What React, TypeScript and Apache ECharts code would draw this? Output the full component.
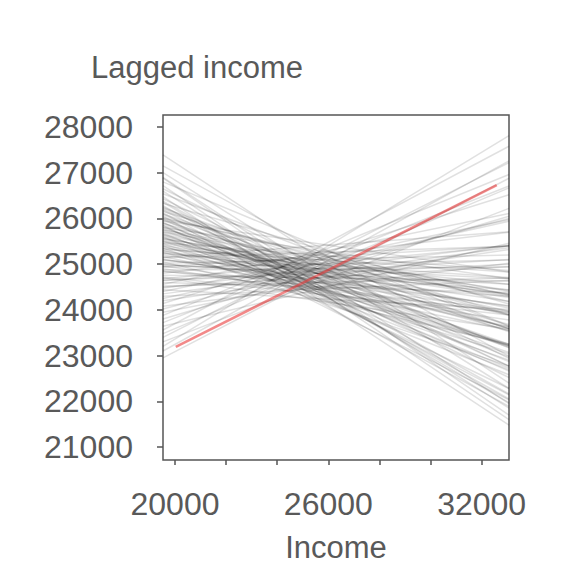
import React, { useEffect, useRef } from "react";
import * as echarts from "echarts";

// x-range of the plot panel (lines span the whole panel)
const xEdges = [19530, 33070];
const yRange = [20716, 28263];
const xTickValues = [20000, 22000, 24000, 26000, 28000, 30000, 32000];
const xLabelValues = [20000, 26000, 32000];
const yTickValues = [21000, 22000, 23000, 24000, 25000, 26000, 27000, 28000];

// gray lines: value at left edge / right edge of panel
const grayLeftY = [
  27390, 27150, 27000, 26880, 26800, 26720, 26650, 26600, 26540, 26480, 26430, 26380, 26330, 26280, 26230, 26900,
  26180, 26150, 26120, 26080, 26050, 26020, 25980, 25950, 25920, 25890, 25860, 25830, 25800, 25770, 25740, 25710,
  25680, 25650, 25620, 25590, 25560, 25530, 25500, 25470, 25440, 25410, 25380, 25350, 25320, 25290, 25260, 25230,
  25200, 25170, 25140, 25110, 25080, 25050, 25020, 24990, 24960, 24930, 24900,
  24870, 24840, 24800, 24760, 24720, 24680, 24640, 24600, 24560, 24520, 24480, 24440, 24400, 24350, 24300, 24250,
  24200, 24140, 24080, 24020, 23950, 23880, 23800, 23720, 23640, 23560, 23480, 23400, 23300, 23200, 23100, 22950,
  26000, 25750, 25600, 25450, 25850, 25300, 25150, 24700, 25950,
  26250, 26100, 25900, 25700, 25550, 25400, 25250, 25100, 24950, 24850,
  26200, 25800, 25650, 25500, 25350, 25000, 24650, 24500, 26350, 26000,
];
const grayRightY = [
  22400, 22990, 22280, 21700, 23650, 21600, 22940, 21850, 23640, 21480, 22770, 22160, 24130, 22050, 23580, 21950,
  22520, 23900, 22140, 23200, 21890, 24180, 22660, 23590, 22280, 23890, 23250, 22730, 24680, 23590, 23180, 24340,
  22690, 23970, 23550, 22580, 24300, 23890, 23250, 24860, 23220, 24270, 23630, 22770, 24830, 24190, 23220, 24710,
  24080, 23550, 25390, 23970, 24680, 23250, 25200, 24560, 23930, 25090, 23780,
  24940, 24300, 25700, 24630, 23890, 25400, 25000, 24380, 26110, 24700, 25420, 24010, 25970, 25360, 24640, 25940,
  25320, 26520, 25020, 26000, 25410, 26960, 26050, 26710, 25460, 27580, 26670, 27220, 26220, 27810, 27260, 26880,
  22970, 24400, 22900, 24330, 22030, 23620, 25710, 23580, 24830,
  22770, 23520, 22870, 23680, 24430, 23040, 24350, 24090, 25400, 23950,
  23170, 23220, 23070, 24040, 24560, 24440, 25100, 24950, 21970, 24320,
];

// observed fit (red)
const redX = [20030, 32590];
const redY = [23190, 26730];

const FONT = "'Liberation Sans', Arial, sans-serif";
const TXT = "#595959";
const AX = "#555555";

export default function App() {
  const ref = useRef<HTMLDivElement>(null);
  useEffect(() => {
    if (!ref.current) return;
    const chart = echarts.init(ref.current, undefined, { renderer: "svg" });
    const series: any[] = grayLeftY.map((l, i) => ({
      type: "line",
      data: [
        [xEdges[0], l],
        [xEdges[1], grayRightY[i]],
      ],
      symbol: "none",
      silent: true,
      clip: true,
      lineStyle: { color: "rgba(0,0,0,0.12)", width: 1.5 },
    }));
    series.push({
      type: "line",
      data: redX.map((x, i) => [x, redY[i]]),
      symbol: "none",
      silent: true,
      lineStyle: { color: "rgba(232,40,40,0.55)", width: 2.6 },
    });
    chart.setOption({
      animation: false,
      textStyle: { fontFamily: FONT },
      grid: {
        left: 163,
        right: 67,
        top: 115,
        bottom: 116,
        show: true,
        borderColor: AX,
        borderWidth: 1.5,
        backgroundColor: "transparent",
      },
      xAxis: {
        type: "value",
        min: xEdges[0],
        max: xEdges[1],
        name: "Income",
        nameLocation: "middle",
        nameGap: 72,
        nameTextStyle: { fontSize: 31, color: TXT, fontFamily: FONT },
        axisLine: { show: false },
        axisTick: {
          show: true,
          length: 5,
          customValues: xTickValues,
          lineStyle: { color: AX, width: 1.5 },
        },
        axisLabel: {
          customValues: xLabelValues,
          formatter: (v: number) => String(v),
          fontSize: 32,
          color: TXT,
          margin: 28,
          fontFamily: FONT,
        },
        splitLine: { show: false },
      },
      yAxis: {
        type: "value",
        min: yRange[0],
        max: yRange[1],
        axisLine: { show: false },
        axisTick: {
          show: true,
          length: 6,
          customValues: yTickValues,
          lineStyle: { color: AX, width: 1.5 },
        },
        axisLabel: {
          customValues: yTickValues,
          formatter: (v: number) => String(v),
          fontSize: 32,
          color: TXT,
          margin: 30,
          fontFamily: FONT,
        },
        splitLine: { show: false },
      },
      graphic: [
        {
          type: "text",
          left: 91,
          top: 52,
          style: {
            text: "Lagged income",
            fontSize: 31,
            fill: TXT,
            fontFamily: FONT,
          },
        },
      ],
      series,
    });
    return () => chart.dispose();
  }, []);
  return (
    <div
      ref={ref}
      style={{ position: "fixed", left: 0, top: 0, width: 576, height: 576, background: "#fff" }}
    />
  );
}
